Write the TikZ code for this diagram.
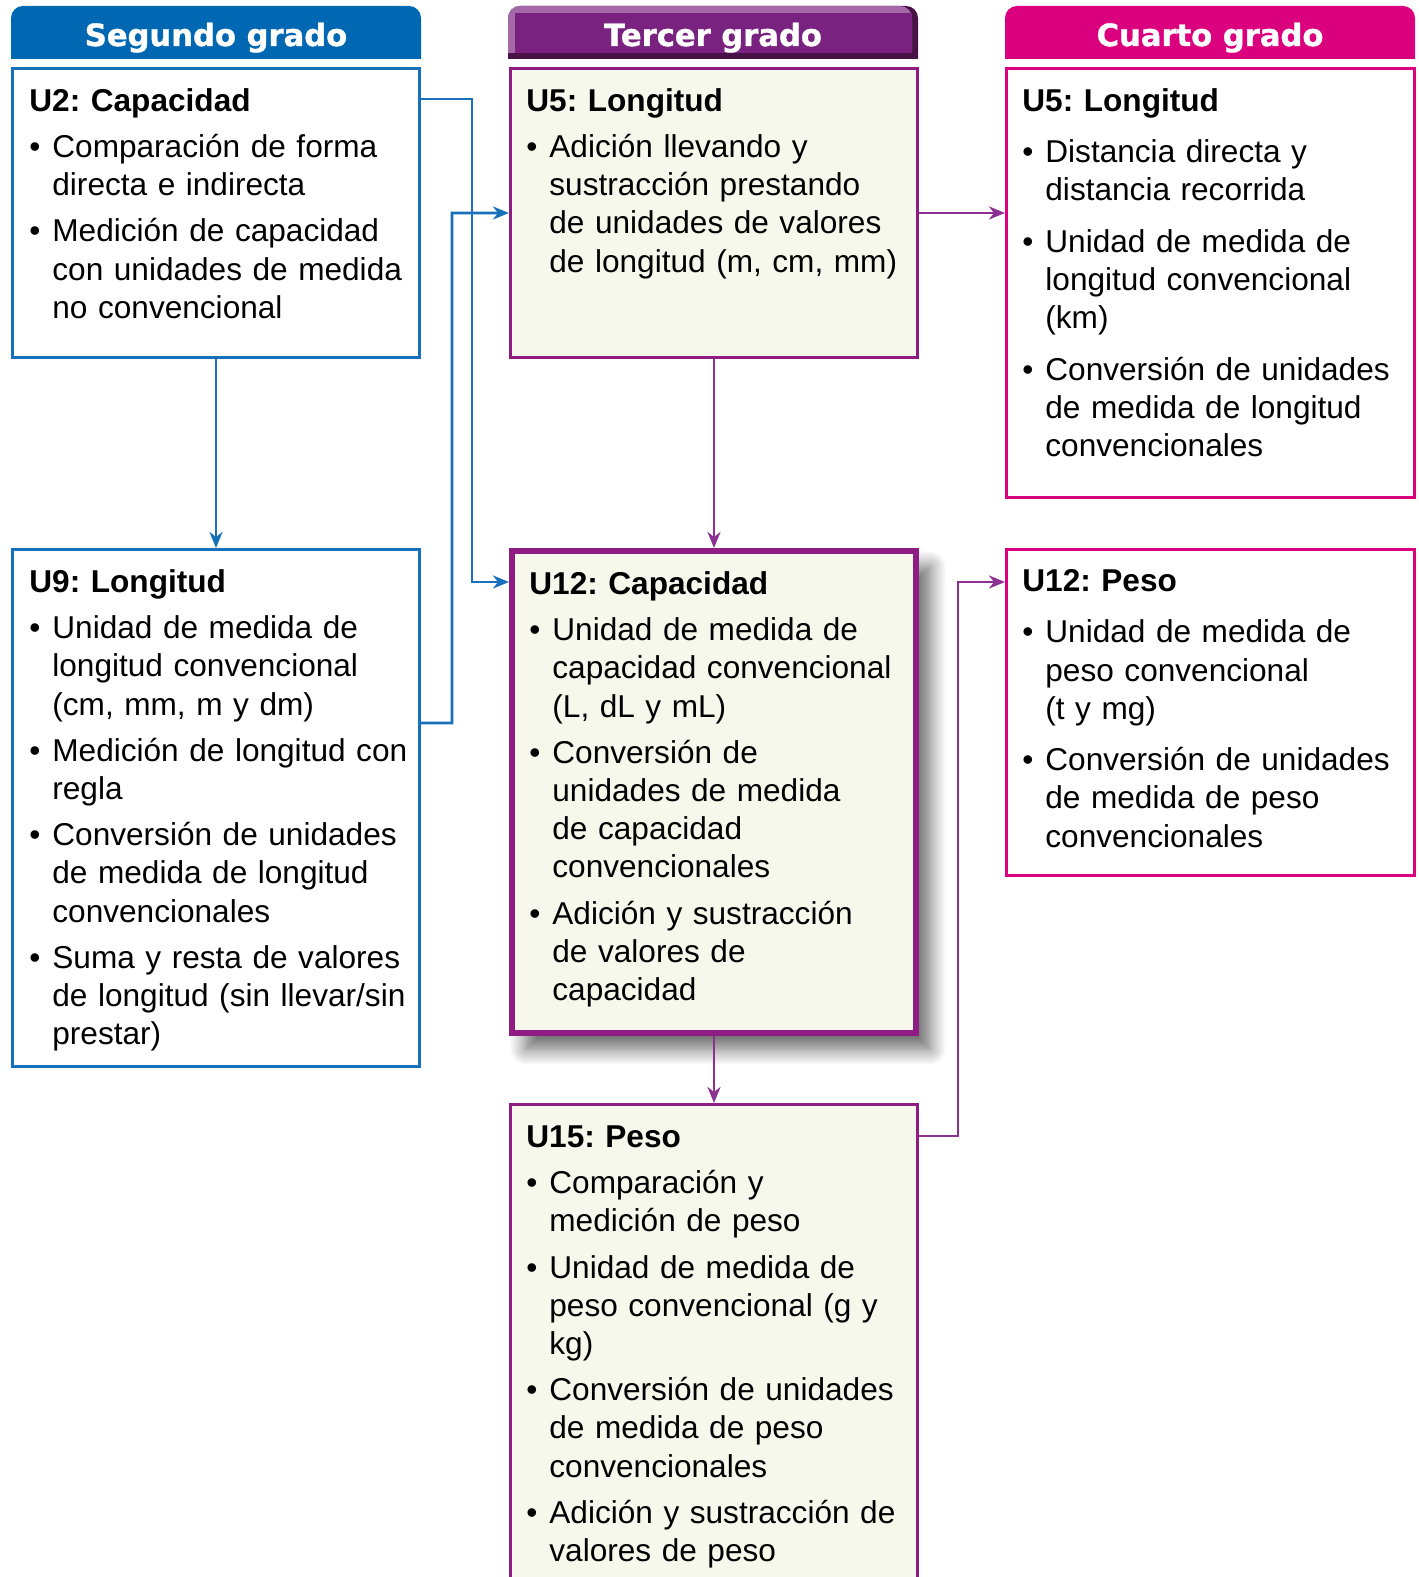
\documentclass[tikz,border=0pt]{standalone}
\usepackage{fontspec}
\setmainfont{Liberation Sans}
\newfontfamily\hdrfont{DejaVu Sans}[BoldFeatures={FakeBold=1.2}]
\usetikzlibrary{calc,arrows.meta,shadows.blur}

\definecolor{azul}{RGB}{0,104,179}
\definecolor{azulbox}{RGB}{24,112,186}
\definecolor{morado}{RGB}{122,34,128}
\definecolor{moradoclaro}{RGB}{165,105,170}
\definecolor{moradoosc}{RGB}{72,18,72}
\definecolor{moradobox}{RGB}{142,28,130}
\definecolor{moradolin}{RGB}{140,48,145}
\definecolor{magenta}{RGB}{219,0,126}
\definecolor{crema}{RGB}{247,248,236}

\frenchspacing
\newlength{\puntosep}
\newcommand{\tit}[1]{\textbf{\rule{0pt}{14pt}#1}}
\newcommand{\pto}{\par\vspace{\puntosep}\hangindent=11.5pt\hangafter=1\noindent\makebox[11.5pt][l]{•}}

\tikzset{
  caja/.style={draw,line width=1.3pt,inner sep=0pt,anchor=north west},
  texto/.style={anchor=north west,inner sep=0pt,text width=200pt,
    font=\fontsize{15.8}{19.1}\selectfont},
  hdr/.style={anchor=base,text=white,inner sep=0pt,
    font=\hdrfont\bfseries\fontsize{15.3}{16}\selectfont},
  flecha/.style={line width=1.3pt,-{Stealth[length=8pt,width=6.5pt,inset=2.5pt]}},
}

\begin{document}
\begin{tikzpicture}[x=0.5pt,y=-0.5pt]
\clip (0,0) rectangle (1418,1577);

% cabeceras
\fill[azul] (11,59) [rounded corners=6pt] -- (11,6) -- (421,6) [sharp corners] -- (421,59) -- cycle;
\fill[moradoosc] (508,59) [rounded corners=6pt] -- (508,6) -- (918,6) [sharp corners] -- (918,59) -- cycle;
\fill[moradoclaro] (508,53) [rounded corners=6pt] -- (508,6) -- (912,6) [sharp corners] -- (912,53) -- cycle;
\fill[morado] (515,13) rectangle (912,53);
\fill[magenta] (1005,59) [rounded corners=6pt] -- (1005,6) -- (1415,6) [sharp corners] -- (1415,59) -- cycle;

\node[hdr] (h2) at (216,46) {Segundo grado};
\node[hdr] (h3) at (713,46) {Tercer grado};
\node[hdr] (h4) at (1210,46) {Cuarto grado};

% cajas
\node[caja,draw=azulbox,minimum width=203.7pt,minimum height=144.7pt] (u2) at (11,67) {};
\node[caja,draw=azulbox,minimum width=203.7pt,minimum height=258.7pt] (u9) at (11,548) {};
\node[caja,draw=moradobox,fill=crema,minimum width=203.7pt,minimum height=144.7pt] (u5a) at (509,67) {};
\node[caja,draw=moradobox,fill=crema,line width=2.8pt,minimum width=202.2pt,minimum height=241.2pt,
  blur shadow={shadow xshift=7pt,shadow yshift=-8pt,shadow blur radius=8pt,shadow blur steps=12,shadow opacity=60}] (u12a) at (509,548) {};
\node[caja,draw=moradobox,fill=crema,minimum width=203.7pt,minimum height=280pt] (u15) at (509,1103) {};
\node[caja,draw=magenta,minimum width=204pt,minimum height=214.7pt] (u5b) at (1005,67) {};
\node[caja,draw=magenta,minimum width=204pt,minimum height=163.2pt] (u12b) at (1005,548) {};

% textos
\node[texto] (t2) at ($(u2.north west)+(18,16)$) {\setlength{\puntosep}{4pt}%
  \tit{U2: Capacidad}
  \pto Comparación de forma\newline directa e indirecta
  \pto Medición de capacidad\newline con unidades de medida\newline no convencional\par};
\node[texto] (t9) at ($(u9.north west)+(18,16)$) {\setlength{\puntosep}{4pt}%
  \tit{U9: Longitud}
  \pto Unidad de medida de\newline longitud convencional\newline (cm, mm, m y dm)
  \pto Medición de longitud con\newline regla
  \pto Conversión de unidades\newline de medida de longitud\newline convencionales
  \pto Suma y resta de valores\newline de longitud (sin llevar/sin\newline prestar)\par};
\node[texto] (t5a) at ($(u5a.north west)+(17,16)$) {\setlength{\puntosep}{4pt}%
  \tit{U5: Longitud}
  \pto Adición llevando y\newline sustracción prestando\newline de unidades de valores\newline de longitud (m, cm, mm)\par};
\node[texto] (t12a) at ($(u12a.north west)+(20,18)$) {\setlength{\puntosep}{4pt}%
  \tit{U12: Capacidad}
  \pto Unidad de medida de\newline capacidad convencional\newline (L, dL y mL)
  \pto Conversión de\newline unidades de medida\newline de capacidad\newline convencionales
  \pto Adición y sustracción\newline de valores de\newline capacidad\par};
\node[texto] (t15) at ($(u15.north west)+(17,16)$) {\setlength{\puntosep}{4pt}%
  \tit{U15: Peso}
  \pto Comparación y\newline medición de peso
  \pto Unidad de medida de\newline peso convencional (g y\newline kg)
  \pto Conversión de unidades\newline de medida de peso\newline convencionales
  \pto Adición y sustracción de\newline valores de peso\par};
\node[texto] (t5b) at ($(u5b.north west)+(17,16)$) {\setlength{\puntosep}{6.6pt}%
  \tit{U5: Longitud}
  \pto Distancia directa y\newline distancia recorrida
  \pto Unidad de medida de\newline longitud convencional\newline (km)
  \pto Conversión de unidades\newline de medida de longitud\newline convencionales\par};
\node[texto] (t12b) at ($(u12b.north west)+(17,15)$) {\setlength{\puntosep}{6.6pt}%
  \tit{U12: Peso}
  \pto Unidad de medida de\newline peso convencional\newline (t y mg)
  \pto Conversión de unidades\newline de medida de peso\newline convencionales\par};

% flechas
\coordinate (c1) at (472,582);
\coordinate (c2) at (452,213);
\coordinate (c3) at (958,582);

\draw[flecha,azulbox] (u2.south) -- (u9.north);
\draw[flecha,azulbox] (u2.east |- 0,99) -| (c1) -- (u12a.west |- c1);
\draw[flecha,azulbox] (u9.east |- 0,723) -| (c2) -- (u5a.west);
\draw[flecha,moradolin] (u5a.south) -- (u12a.north);
\draw[flecha,moradolin] (u5a.east) -- (u5b.west |- u5a.east);
\draw[flecha,moradolin] (u12a.south) -- (u15.north);
\draw[flecha,moradolin] (u15.east |- 0,1136) -| (c3) -- (u12b.west |- c3);
\end{tikzpicture}
\end{document}
